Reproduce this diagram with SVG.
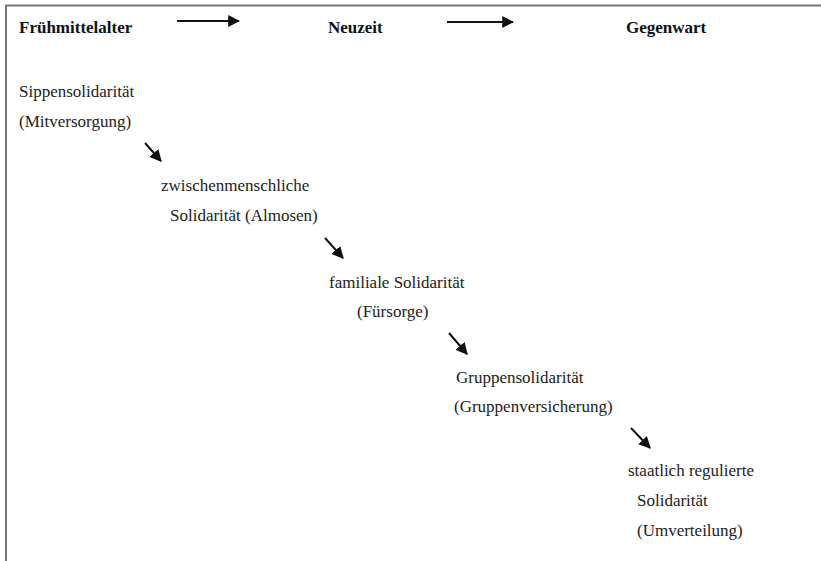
<svg xmlns="http://www.w3.org/2000/svg" width="821" height="561" viewBox="0 0 821 561">
<defs>
<marker id="ah" viewBox="0 0 10 10" refX="9" refY="5" markerWidth="6" markerHeight="6" markerUnits="strokeWidth" orient="auto">
<path d="M0,0 L10,5 L0,10 z" fill="#111"/>
</marker>
<style>
text{font-family:"Liberation Serif","Times New Roman",serif;font-size:17px;fill:#222}
.h{font-weight:bold;fill:#111}
.c{stroke:#111;stroke-width:2;fill:none;marker-end:url(#ah)}
.f{stroke:#777;stroke-width:2;fill:none}
</style>
</defs>
<rect width="821" height="561" fill="#fff"/>
<path class="f" d="M6,561 V5.5 H821"/>
<g id="h1"><text class="h" x="19" y="33">Frühmittelalter</text></g>
<g id="h2"><text class="h" x="328" y="33">Neuzeit</text></g>
<g id="h3"><text class="h" x="626" y="33">Gegenwart</text></g>
<g id="n1"><text x="19" y="97">Sippensolidarität</text><text x="19" y="127">(Mitversorgung)</text></g>
<g id="n2"><text x="161" y="191">zwischenmenschliche</text><text x="170" y="221">Solidarität (Almosen)</text></g>
<g id="n3"><text x="329" y="288">familiale Solidarität</text><text x="357" y="317">(Fürsorge)</text></g>
<g id="n4"><text x="456" y="383">Gruppensolidarität</text><text x="454" y="412">(Gruppenversicherung)</text></g>
<g id="n5"><text x="628" y="476">staatlich regulierte</text><text x="637" y="506">Solidarität</text><text x="637" y="536">(Umverteilung)</text></g>
<g id="connectors">
<line class="c" x1="177" y1="21" x2="239" y2="21"/>
<line class="c" x1="447" y1="22" x2="513" y2="22"/>
<line class="c" x1="145" y1="143" x2="161" y2="161"/>
<line class="c" x1="325" y1="238" x2="343" y2="258"/>
<line class="c" x1="449" y1="333" x2="467" y2="354"/>
<line class="c" x1="631" y1="428" x2="650" y2="448"/>
</g>
</svg>
